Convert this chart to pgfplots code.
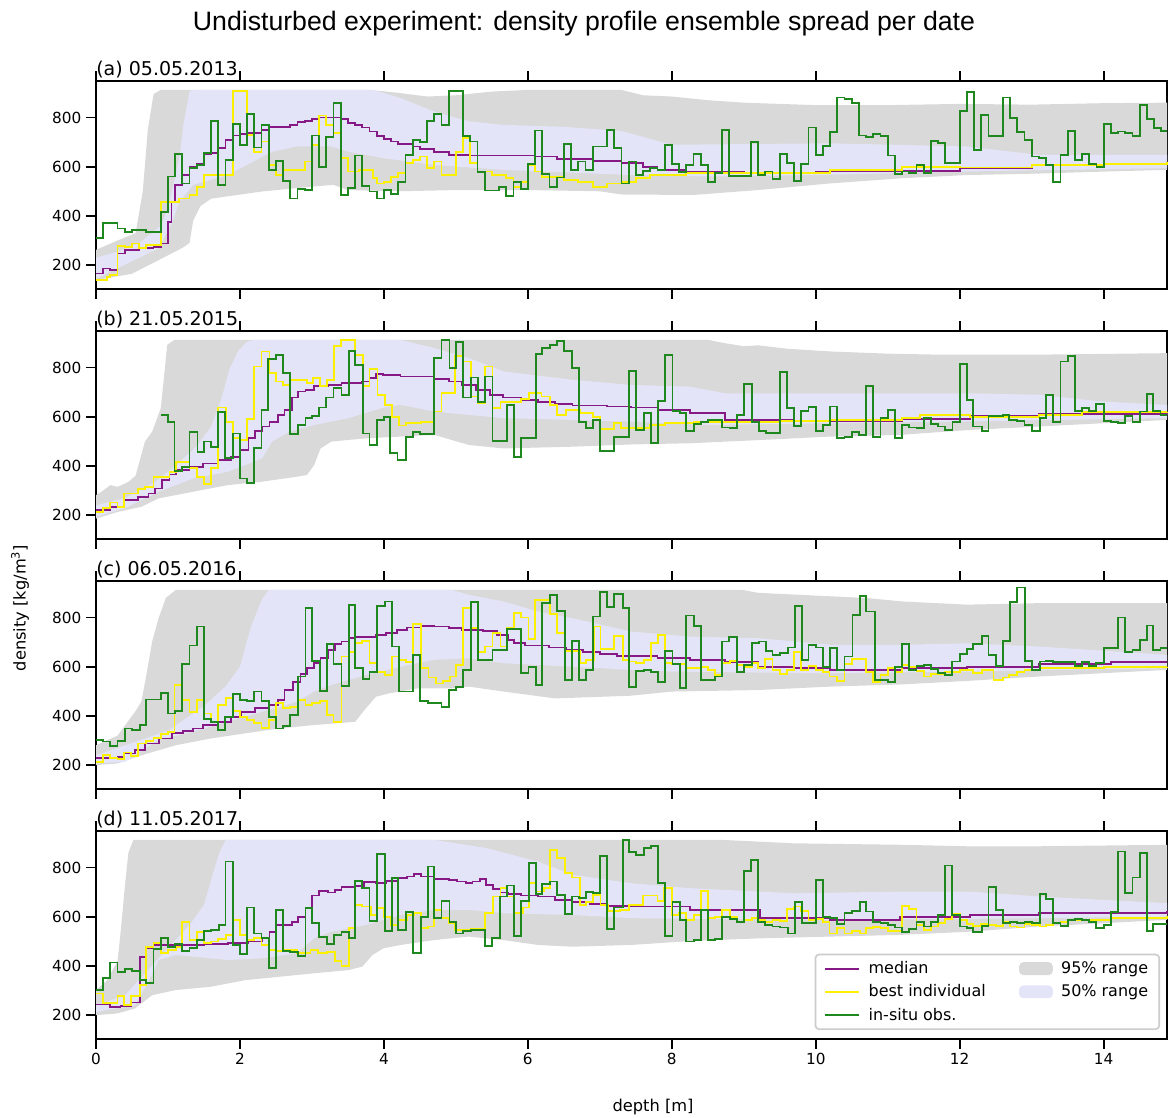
\documentclass[border=0pt]{standalone}
\usepackage{fontspec}
\setmainfont{DejaVu Sans}
\newfontfamily\titlefont{Liberation Sans}
\usepackage{pgfplots}
\pgfplotsset{compat=1.18}

\definecolor{cgray}{RGB}{217,217,217}
\definecolor{clav}{RGB}{227,228,247}
\definecolor{cmed}{RGB}{135,25,135}
\definecolor{cyel}{RGB}{250,240,0}
\definecolor{cgrn}{RGB}{30,135,30}
\definecolor{clegbox}{RGB}{204,204,204}

\tikzset{plab/.style={anchor=base west, inner xsep=0pt, yshift=4.2pt, font=\fontsize{13.7}{16}\selectfont}}
\pgfplotsset{
  panel/.style={
    width=771.12pt, height=149.76pt, scale only axis,
    xmin=0, xmax=14.88, ymin=103, ymax=948,
    xtick={0,2,...,14}, ytick={200,400,600,800},
    tick align=outside, major tick length=7pt,
    tick style={line width=1.3pt, black},
    axis line style={line width=1.6pt},
    every tick label/.append style={font=\fontsize{11}{13}\selectfont},
    /pgf/number format/assume math mode=true,
    clip=false,
  },
  medl/.style={cmed, line width=1.3pt, const plot, forget plot},
  yell/.style={cyel, line width=1.3pt, const plot, forget plot},
  grnl/.style={cgrn, line width=1.3pt, const plot, forget plot},
  band95/.style={fill=cgray, draw=none, forget plot},
  band50/.style={fill=clav, draw=none, forget plot},
}

\begin{document}
\begin{tikzpicture}
\useasboundingbox (0,0) rectangle (840.96pt,-804.24pt);

\node[anchor=base, font=\titlefont\fontsize{19.2}{23}\selectfont] at (420.5pt,-22.3pt) {Undisturbed experiment: density profile ensemble spread per date};
\node[rotate=90, anchor=center, font=\fontsize{11.7}{14}\selectfont] at (14.4pt,-437.8pt) {density [kg/m\textsuperscript{3}]};
\node[anchor=base, font=\fontsize{11.7}{14}\selectfont] at (470.2pt,-800.5pt) {depth [m]};

% ---------------- (a) ----------------
\begin{axis}[panel, at={(69.12pt,-58.32pt)}, anchor=north west, xticklabels={}]
\addplot[band95] coordinates {(0,262)(0.3,300)(0.55,330)(0.65,500)(0.72,750)(0.8,895)(0.9,912)(3.8,912)(4.2,900)(4.6,885)(5.0,890)(5.5,905)(6.0,912)(7.3,912)(7.6,890)(8.0,885)(8.5,870)(9.0,860)(10.0,850)(11.0,850)(12.0,855)(13.0,852)(14.0,858)(14.88,860)
 (14.88,587)(14.0,580)(13.1,572)(12.1,566)(11.2,553)(10.2,532)(9.2,505)(8.3,485)(7.3,487)(7.0,500)(6.0,505)(5.0,505)(4.2,500)(3.5,505)(3.3,526)(3.0,519)(2.3,499)(1.6,470)(1.45,440)(1.35,380)(1.3,290)(1.2,270)(0.9,225)(0.5,165)(0,139)};
\addplot[band50] coordinates {(0,230)(0.3,255)(0.6,290)(0.9,360)(1.0,430)(1.1,560)(1.16,640)(1.22,780)(1.3,906)(1.35,912)(3.85,912)(4.23,879)(4.7,824)(5.18,784)(5.66,770)(6.5,762)(7.3,745)(7.8,705)(8.0,689)(10.2,695)(12.1,682)(13.1,648)(14.88,648)
 (14.88,594)(12.0,580)(10.0,566)(8.5,560)(7.43,566)(5.66,587)(4.7,607)(4.0,634)(3.5,661)(3.27,682)(2.79,682)(2.45,661)(1.83,566)(1.35,526)(1.16,458)(1.06,376)(0.87,268)(0,145)};
\addplot[medl] coordinates {(0,166)(0.1,186)(0.2,180)(0.3,247)(0.4,262)(0.6,268)(0.8,275)(0.9,288)(1.0,376)(1.05,458)(1.1,526)(1.2,566)(1.3,600)(1.4,610)(1.5,650)(1.6,655)(1.7,675)(1.8,709)(1.9,727)(2.0,733)(2.1,737)(2.3,750)(2.4,760)(2.7,770)(2.8,781)(2.9,787)(3.0,795)(3.1,800)(3.4,795)(3.5,777)(3.6,770)(3.7,759)(3.8,743)(3.9,723)(4.0,713)(4.1,702)(4.2,692)(4.4,682)(4.5,672)(4.7,659)(4.9,648)(5.2,645)(6.1,641)(6.4,631)(6.9,623)(7.3,614)(7.6,600)(7.8,585)(8.2,578)(9.0,573)(10.0,580)(11.0,584)(12.0,596)(13.0,605)(14.0,612)(14.88,618)};
\addplot[yell] coordinates {(0,139)(0.15,153)(0.2,159)(0.3,277)(0.4,274)(0.5,288)(0.6,268)(0.7,281)(0.9,458)(1.05,458)(1.15,471)(1.3,485)(1.4,519)(1.5,566)(1.9,906)(2.1,729)(2.2,661)(2.3,702)(2.4,607)(2.5,566)(2.6,587)(2.9,621)(3.0,689)(3.1,808)(3.2,770)(3.3,736)(3.4,634)(3.5,580)(3.65,587)(3.85,553)(3.9,532)(4.0,539)(4.1,559)(4.2,573)(4.3,614)(4.4,628)(4.5,641)(4.6,594)(4.7,621)(4.8,566)(5.0,661)(5.1,716)(5.2,614)(5.3,580)(5.5,566)(5.7,553)(5.8,519)(5.9,539)(6.0,607)(6.1,580)(6.2,559)(6.5,546)(6.7,539)(6.9,519)(7.1,532)(7.3,539)(7.5,553)(7.7,566)(8.2,573)(9.0,575)(10.2,587)(11.2,600)(12.0,597)(13.0,607)(14.0,612)(14.88,618)};
\addplot[grnl] coordinates {(0,311)(0.1,370)(0.3,349)(0.4,336)(0.5,342)(0.7,336)(0.9,417)(1.0,560)(1.1,652)(1.2,532)(1.3,596)(1.4,607)(1.5,655)(1.6,786)(1.7,526)(1.8,628)(1.9,773)(2.0,689)(2.1,814)(2.2,678)(2.3,770)(2.4,587)(2.5,623)(2.6,542)(2.7,471)(2.8,509)(2.9,505)(3.0,727)(3.1,600)(3.2,719)(3.3,858)(3.4,485)(3.5,512)(3.6,645)(3.7,523)(3.8,499)(3.9,471)(4.0,505)(4.1,488)(4.2,539)(4.3,648)(4.4,709)(4.5,700)(4.6,784)(4.7,814)(4.8,770)(4.9,906)(5.1,723)(5.2,702)(5.3,577)(5.4,503)(5.6,519)(5.7,482)(5.8,537)(5.9,509)(6.0,610)(6.1,747)(6.2,569)(6.3,519)(6.4,556)(6.5,691)(6.6,587)(6.7,621)(6.8,587)(6.9,682)(7.1,750)(7.2,675)(7.3,532)(7.4,621)(7.5,566)(7.6,583)(7.7,594)(7.8,587)(7.9,689)(8.0,610)(8.1,577)(8.2,607)(8.3,652)(8.4,607)(8.5,539)(8.6,573)(8.7,750)(8.8,562)(9.1,700)(9.2,566)(9.3,580)(9.4,550)(9.5,652)(9.6,614)(9.7,543)(9.8,610)(9.9,759)(10.0,648)(10.1,685)(10.2,740)(10.3,881)(10.4,876)(10.5,858)(10.6,727)(10.7,720)(10.8,732)(10.9,725)(11.0,645)(11.1,570)(11.2,580)(11.3,573)(11.4,607)(11.5,573)(11.6,705)(11.7,695)(11.8,614)(12.0,827)(12.1,903)(12.2,668)(12.3,811)(12.4,725)(12.6,881)(12.7,797)(12.8,740)(12.9,709)(13.0,641)(13.1,634)(13.2,607)(13.3,537)(13.4,648)(13.5,746)(13.6,628)(13.7,651)(13.8,610)(13.9,600)(14.0,773)(14.1,736)(14.2,743)(14.3,736)(14.4,725)(14.5,849)(14.6,793)(14.7,757)(14.8,746)(14.88,746)};
\node[plab] at (rel axis cs:0,1) {(a) 05.05.2013};
\end{axis}

% ---------------- (b) ----------------
\begin{axis}[panel, at={(69.12pt,-238.32pt)}, anchor=north west, xticklabels={}]
\addplot[band95] coordinates {(0,281)(0.1,300)(0.2,322)(0.3,315)(0.45,335)(0.55,360)(0.68,499)(0.78,539)(0.9,634)(0.99,892)(1.09,912)(8.5,912)(8.75,898)(9.0,886)(9.2,890)(9.6,876)(10.2,865)(11.0,856)(11.7,852)(13.1,852)(14.0,855)(14.88,858)
 (14.88,587)(13.1,560)(12.14,546)(11.17,526)(10.19,519)(9.22,505)(8.25,492)(7.43,487)(6.62,478)(5.66,471)(5.18,485)(4.7,526)(4.23,519)(3.75,512)(3.27,499)(3.12,471)(3.03,403)(2.93,363)(2.79,356)(2.31,336)(1.83,322)(1.35,295)(0.87,268)(0.63,234)(0.3,213)(0,186)};
\addplot[band50] coordinates {(0,240)(0.4,270)(0.8,330)(1.1,400)(1.4,480)(1.6,560)(1.75,680)(1.85,790)(1.97,865)(2.1,905)(2.2,912)(4.23,912)(4.7,879)(5.18,838)(5.66,784)(6.62,750)(7.43,729)(8.25,722)(8.74,695)(10.2,695)(12.1,695)(13.1,689)(14.0,661)(14.88,648)
 (14.88,594)(12.0,580)(10.2,573)(8.5,566)(7.43,580)(6.62,587)(5.66,594)(5.18,607)(4.7,621)(4.23,648)(3.99,637)(3.51,594)(3.03,566)(2.69,539)(2.45,499)(2.31,431)(2.07,403)(1.83,376)(1.35,349)(0.87,295)(0.39,227)(0,193)};
\addplot[medl] coordinates {(0,220)(0.2,234)(0.39,261)(0.58,274)(0.73,288)(0.82,308)(0.92,342)(1.02,365)(1.11,383)(1.3,397)(1.49,410)(1.69,424)(1.88,437)(2.0,465)(2.12,512)(2.21,542)(2.31,560)(2.41,580)(2.53,607)(2.62,628)(2.72,678)(2.81,702)(2.91,708)(3.03,723)(3.22,729)(3.41,736)(3.7,743)(3.8,757)(3.89,773)(3.99,770)(4.23,763)(4.7,754)(4.9,743)(5.09,729)(5.28,709)(5.47,689)(5.66,678)(5.9,668)(6.14,659)(6.38,651)(6.62,645)(7.1,641)(7.43,637)(7.8,628)(8.25,614)(8.74,587)(9.7,584)(11.2,592)(12.14,604)(13.1,610)(14.88,618)};
\addplot[yell] coordinates {(0,213)(0.1,230)(0.2,251)(0.3,234)(0.39,288)(0.58,306)(0.68,315)(0.8,356)(1.02,376)(1.11,417)(1.3,393)(1.4,356)(1.5,325)(1.6,390)(1.7,637)(1.81,577)(1.9,512)(2.0,505)(2.1,591)(2.2,804)(2.3,865)(2.41,777)(2.5,743)(2.6,729)(2.69,750)(2.93,736)(3.02,757)(3.11,723)(3.21,750)(3.31,886)(3.4,913)(3.6,849)(3.71,723)(3.8,793)(3.91,689)(4.01,648)(4.11,600)(4.21,564)(4.31,573)(4.51,580)(4.7,621)(4.8,695)(4.99,845)(5.1,824)(5.21,682)(5.31,655)(5.41,804)(5.51,634)(5.62,661)(5.9,672)(6.02,695)(6.19,682)(6.31,648)(6.41,607)(6.53,628)(6.72,614)(6.91,600)(7.0,550)(7.2,573)(7.29,553)(7.5,553)(7.7,566)(7.9,573)(8.3,580)(9.5,582)(10.2,587)(11.2,596)(11.45,607)(12.0,607)(12.14,600)(13.1,607)(13.7,618)(14.88,621)};
\addplot[grnl] coordinates {(0.9,607)(1.0,577)(1.09,379)(1.2,397)(1.3,539)(1.41,455)(1.5,499)(1.6,478)(1.7,618)(1.79,431)(1.9,532)(2.0,349)(2.1,329)(2.2,474)(2.3,628)(2.39,835)(2.5,852)(2.6,777)(2.7,528)(2.81,566)(2.91,594)(3.0,604)(3.1,637)(3.2,678)(3.3,716)(3.41,689)(3.51,868)(3.6,811)(3.71,532)(3.8,485)(3.9,587)(4.0,600)(4.09,451)(4.19,424)(4.31,519)(4.4,539)(4.5,528)(4.7,838)(4.8,913)(4.91,797)(5.0,902)(5.1,678)(5.21,759)(5.31,661)(5.41,763)(5.51,501)(5.71,648)(5.81,437)(5.9,512)(6.0,515)(6.11,854)(6.2,879)(6.31,890)(6.41,906)(6.5,868)(6.61,797)(6.71,577)(6.81,553)(6.91,587)(7.0,460)(7.2,519)(7.4,784)(7.5,546)(7.61,614)(7.71,492)(7.81,664)(7.9,852)(8.01,623)(8.11,614)(8.2,542)(8.31,570)(8.41,577)(8.5,587)(8.7,556)(8.81,553)(8.91,607)(9.0,732)(9.11,580)(9.21,542)(9.31,535)(9.5,780)(9.6,634)(9.7,562)(9.8,623)(9.9,640)(10.0,542)(10.1,566)(10.2,641)(10.3,515)(10.4,519)(10.5,539)(10.6,525)(10.7,725)(10.8,519)(10.9,596)(11.0,628)(11.1,512)(11.2,566)(11.3,556)(11.4,553)(11.5,594)(11.6,569)(11.7,560)(11.8,546)(11.9,580)(12.0,814)(12.1,668)(12.19,560)(12.31,542)(12.4,604)(12.6,607)(12.69,587)(12.8,583)(12.9,566)(13.0,542)(13.11,594)(13.2,689)(13.3,580)(13.4,824)(13.5,845)(13.6,623)(13.7,634)(13.8,623)(13.89,652)(14.0,583)(14.1,580)(14.2,573)(14.3,604)(14.4,577)(14.5,621)(14.6,691)(14.69,623)(14.79,607)(14.88,607)};
\node[plab] at (rel axis cs:0,1) {(b) 21.05.2015};
\end{axis}

% ---------------- (c) ----------------
\begin{axis}[panel, at={(69.12pt,-418.32pt)}, anchor=north west, xticklabels={}]
\addplot[band95] coordinates {(0,281)(0.3,320)(0.55,420)(0.63,458)(0.7,566)(0.78,702)(0.87,797)(0.97,879)(1.11,912)(8.98,912)(9.2,900)(10.2,886)(10.7,879)(11.2,865)(12.1,852)(13.1,858)(14.88,858)
 (14.88,587)(13.1,560)(12.1,542)(11.2,528)(10.2,519)(9.2,505)(8.0,499)(7.43,482)(6.38,471)(5.66,499)(5.18,519)(4.94,512)(4.47,512)(4.08,492)(3.89,478)(3.75,431)(3.6,376)(3.03,363)(2.55,349)(2.07,329)(1.59,308)(1.11,281)(0.63,240)(0.3,207)(0,200)};
\addplot[band50] coordinates {(0,240)(0.5,290)(1.0,340)(1.5,440)(1.8,520)(2.0,600)(2.15,760)(2.3,870)(2.4,912)(4.94,912)(5.18,892)(5.66,865)(6.14,824)(6.62,797)(7.43,743)(8.25,722)(9.2,716)(10.2,689)(11.2,689)(12.1,695)(13.1,682)(14.88,648)
 (14.88,594)(12.1,580)(10.2,573)(8.0,580)(7.43,587)(6.62,600)(5.66,614)(5.18,634)(4.7,628)(4.23,600)(3.75,566)(3.27,526)(3.03,499)(2.79,458)(2.55,437)(2.31,417)(1.83,376)(1.35,336)(0.87,302)(0.4,213)(0,207)};
\addplot[medl] coordinates {(0,230)(0.3,234)(0.39,247)(0.54,261)(0.68,288)(0.87,308)(1.06,329)(1.21,338)(1.35,349)(1.49,363)(1.69,376)(1.88,397)(2.02,417)(2.21,431)(2.41,444)(2.53,465)(2.62,505)(2.74,539)(2.84,569)(2.93,594)(3.03,614)(3.12,634)(3.22,668)(3.32,691)(3.41,702)(3.51,716)(3.6,721)(3.89,729)(4.03,736)(4.18,750)(4.32,759)(4.51,766)(4.7,763)(4.9,757)(5.09,750)(5.38,745)(5.57,729)(5.72,709)(5.81,695)(5.96,686)(6.29,678)(6.53,668)(6.77,661)(7.0,651)(7.24,645)(7.8,636)(8.25,628)(8.74,618)(9.2,600)(9.7,594)(10.2,587)(11.2,594)(12.1,600)(13.1,610)(14.1,618)(14.88,618)};
\addplot[yell] coordinates {(0,213)(0.1,240)(0.2,230)(0.3,224)(0.39,251)(0.49,238)(0.58,288)(0.7,298)(0.8,311)(0.9,325)(1.0,336)(1.09,526)(1.2,465)(1.3,417)(1.4,465)(1.5,410)(1.6,376)(1.7,444)(1.81,474)(1.9,420)(2.0,397)(2.1,383)(2.2,370)(2.3,352)(2.4,383)(2.5,451)(2.6,431)(2.7,437)(2.81,465)(2.91,444)(3.0,451)(3.11,460)(3.21,403)(3.3,376)(3.41,641)(3.51,661)(3.6,695)(3.7,705)(3.8,614)(3.9,580)(4.01,566)(4.11,641)(4.21,628)(4.31,618)(4.4,773)(4.51,594)(4.62,556)(4.72,532)(4.82,542)(4.92,560)(5.0,607)(5.1,838)(5.21,757)(5.31,661)(5.41,682)(5.51,736)(5.62,682)(5.71,757)(5.81,818)(5.9,800)(6.01,713)(6.1,872)(6.31,814)(6.41,736)(6.52,664)(6.72,614)(6.81,628)(6.92,763)(7.01,672)(7.2,723)(7.32,628)(7.4,621)(7.5,614)(7.61,628)(7.71,695)(7.81,729)(7.9,614)(8.0,610)(8.2,594)(8.41,600)(8.5,587)(8.6,566)(8.7,614)(8.81,623)(8.91,607)(9.0,600)(9.11,614)(9.2,596)(9.3,632)(9.4,587)(9.5,569)(9.6,587)(9.7,661)(9.8,587)(9.9,604)(10.0,587)(10.1,580)(10.19,560)(10.3,542)(10.4,610)(10.5,632)(10.7,580)(10.8,539)(10.9,566)(11.0,594)(11.1,580)(11.2,607)(11.3,600)(11.4,583)(11.5,560)(11.6,569)(11.8,577)(11.9,580)(12.0,587)(12.19,573)(12.31,587)(12.47,546)(12.6,556)(12.69,566)(12.8,580)(12.9,587)(13.11,594)(14.0,598)(14.88,600)};
\addplot[grnl] coordinates {(0,302)(0.1,296)(0.2,279)(0.3,299)(0.4,349)(0.5,342)(0.61,363)(0.7,467)(0.9,492)(1.0,410)(1.1,420)(1.2,610)(1.3,686)(1.4,763)(1.5,387)(1.6,376)(1.7,342)(1.79,397)(1.9,488)(2.0,465)(2.1,460)(2.2,499)(2.3,460)(2.4,397)(2.5,349)(2.6,360)(2.7,403)(2.81,560)(2.91,838)(3.0,623)(3.11,501)(3.21,691)(3.3,610)(3.41,523)(3.51,849)(3.6,594)(3.71,550)(3.8,580)(3.9,845)(4.01,865)(4.11,682)(4.21,499)(4.4,648)(4.5,460)(4.61,451)(4.8,437)(4.9,505)(5.0,519)(5.1,587)(5.21,862)(5.31,628)(5.51,668)(5.71,754)(5.9,573)(6.01,600)(6.11,526)(6.2,858)(6.31,892)(6.41,827)(6.52,546)(6.61,705)(6.71,546)(6.81,587)(6.91,804)(7.0,903)(7.1,842)(7.2,895)(7.32,838)(7.4,519)(7.5,583)(7.61,587)(7.71,580)(7.81,539)(7.9,664)(8.01,610)(8.11,512)(8.2,808)(8.31,766)(8.41,546)(8.6,560)(8.7,702)(8.8,719)(8.91,580)(9.0,607)(9.11,695)(9.21,702)(9.31,664)(9.4,648)(9.5,655)(9.61,678)(9.71,845)(9.81,628)(9.9,689)(10.0,678)(10.1,600)(10.2,675)(10.3,587)(10.4,641)(10.51,811)(10.61,886)(10.7,824)(10.82,546)(11.0,539)(11.1,600)(11.2,691)(11.3,587)(11.4,604)(11.5,607)(11.6,591)(11.7,573)(11.8,566)(11.89,621)(12.0,651)(12.1,672)(12.19,691)(12.31,723)(12.4,648)(12.5,604)(12.6,705)(12.7,862)(12.8,922)(12.91,623)(13.0,587)(13.11,621)(13.2,623)(13.3,618)(13.6,604)(13.7,618)(13.8,604)(13.89,614)(14.0,675)(14.2,800)(14.3,661)(14.4,668)(14.5,709)(14.6,767)(14.69,668)(14.79,675)(14.88,675)};
\node[plab] at (rel axis cs:0,1) {(c) 06.05.2016};
\end{axis}

% ---------------- (d) ----------------
\begin{axis}[panel, at={(69.12pt,-598.32pt)}, anchor=north west,
  legend columns=2,
  legend cell align=left,
  legend style={at={(1,0)}, anchor=south east, xshift=-5pt, yshift=6.5pt,
    draw=clegbox, line width=1.2pt, rounded corners=2.5pt, fill=white,
    font=\fontsize{11.5}{13.5}\selectfont, row sep=2.5pt, inner xsep=6pt, inner ysep=3pt,
    /tikz/every even column/.append style={column sep=22pt},
    /tikz/every odd column/.append style={column sep=4pt}},
]
\addlegendimage{legend image code/.code={\draw[cmed, line width=1.3pt] (0pt,0pt) -- (25pt,0pt);}}
\addlegendentry{median}
\addlegendimage{legend image code/.code={\fill[cgray] (0pt,-4pt) rectangle (23pt,4pt);}}
\addlegendentry{95\% range}
\addlegendimage{legend image code/.code={\draw[cyel, line width=1.3pt] (0pt,0pt) -- (25pt,0pt);}}
\addlegendentry{best individual}
\addlegendimage{legend image code/.code={\fill[clav] (0pt,-4pt) rectangle (23pt,4pt);}}
\addlegendentry{50\% range}
\addlegendimage{legend image code/.code={\draw[cgrn, line width=1.3pt] (0pt,0pt) -- (25pt,0pt);}}
\addlegendentry{in-situ obs.}
\addplot[band95] coordinates {(0,302)(0.15,340)(0.3,420)(0.35,560)(0.4,720)(0.45,860)(0.52,912)(8.7,912)(9.7,898)(11.2,892)(12.1,886)(13.1,886)(14.88,892)
 (14.88,587)(13.1,560)(12.14,539)(11.17,526)(10.19,519)(9.22,512)(8.25,501)(7.43,485)(6.62,478)(6.14,485)(5.66,505)(5.18,519)(4.7,505)(4.23,485)(3.99,471)(3.84,444)(3.7,397)(3.51,383)(3.03,370)(2.55,356)(2.07,342)(1.59,315)(1.11,302)(0.78,281)(0.54,227)(0.3,207)(0,200)};
\addplot[band50] coordinates {(0,240)(0.4,280)(0.87,431)(1.3,566)(1.5,648)(1.62,770)(1.72,865)(1.8,912)(4.7,912)(5.42,879)(6.14,824)(6.62,770)(7.43,736)(8.25,716)(9.7,695)(11.2,702)(12.14,702)(13.1,682)(14.88,655)
 (14.88,600)(12.1,591)(10.2,587)(8.5,591)(7.43,594)(6.62,607)(5.66,614)(5.18,628)(4.7,628)(4.23,607)(3.75,566)(3.27,539)(3.03,512)(2.79,451)(2.31,431)(1.83,424)(1.11,444)(0.87,424)(0.73,336)(0.54,240)(0,213)};
\addplot[medl] coordinates {(0,243)(0.2,234)(0.34,238)(0.49,251)(0.61,437)(0.7,471)(0.8,485)(1.5,488)(1.83,492)(2.12,499)(2.31,515)(2.41,539)(2.5,566)(2.72,580)(2.81,600)(2.91,634)(3.0,686)(3.1,705)(3.22,698)(3.32,709)(3.41,719)(3.6,723)(3.72,740)(3.89,738)(4.03,746)(4.2,757)(4.32,763)(4.42,773)(4.51,763)(4.7,754)(4.9,750)(5.02,743)(5.14,736)(5.23,743)(5.33,752)(5.42,729)(5.52,713)(5.62,698)(5.72,692)(5.9,686)(6.14,682)(6.38,668)(6.62,659)(6.86,651)(7.1,644)(7.43,641)(8.25,628)(9.22,596)(10.19,587)(11.17,600)(12.14,607)(13.1,614)(14.88,623)};
\addplot[yell] coordinates {(0,288)(0.1,250)(0.3,279)(0.39,240)(0.49,279)(0.61,322)(0.7,478)(0.8,492)(0.9,451)(1.0,465)(1.11,478)(1.2,580)(1.3,505)(1.4,539)(1.5,492)(1.6,499)(1.7,509)(1.81,526)(1.9,587)(2.0,526)(2.1,505)(2.2,515)(2.3,485)(2.4,465)(2.5,460)(2.6,465)(2.79,451)(2.98,465)(3.08,451)(3.21,458)(3.32,420)(3.41,401)(3.51,553)(3.6,648)(3.7,641)(3.82,607)(3.91,634)(4.0,600)(4.1,566)(4.2,587)(4.32,607)(4.42,614)(4.51,553)(4.61,560)(4.7,628)(4.8,596)(4.9,573)(4.99,546)(5.21,550)(5.4,614)(5.52,682)(5.62,716)(5.71,682)(5.81,614)(5.93,637)(6.02,736)(6.12,702)(6.22,716)(6.31,872)(6.41,838)(6.52,777)(6.61,759)(6.72,648)(6.81,661)(6.91,689)(7.01,648)(7.11,623)(7.28,628)(7.4,648)(7.6,686)(7.8,664)(7.89,716)(8.0,607)(8.1,614)(8.2,587)(8.31,607)(8.41,705)(8.5,594)(8.6,600)(8.7,628)(8.81,600)(8.91,580)(9.0,587)(9.11,594)(9.2,587)(9.3,580)(9.4,587)(9.5,583)(9.6,632)(9.7,641)(9.8,623)(9.9,587)(10.0,591)(10.1,580)(10.19,532)(10.3,553)(10.4,532)(10.5,542)(10.61,532)(10.7,553)(10.8,557)(10.9,553)(11.0,542)(11.2,645)(11.3,632)(11.4,566)(11.5,546)(11.6,560)(11.7,573)(11.8,591)(11.89,610)(12.0,587)(12.1,569)(12.19,562)(12.3,569)(12.4,566)(12.5,562)(12.6,580)(12.7,560)(12.8,556)(12.9,569)(13.0,566)(13.11,560)(13.2,566)(13.3,573)(13.4,580)(13.5,587)(14.1,594)(14.88,604)};
\addplot[grnl] coordinates {(0,302)(0.1,352)(0.2,414)(0.3,376)(0.4,387)(0.5,379)(0.61,342)(0.7,329)(0.8,469)(0.9,515)(1.0,478)(1.1,488)(1.2,460)(1.3,474)(1.4,505)(1.5,542)(1.6,546)(1.71,566)(1.8,824)(1.9,485)(2.0,447)(2.1,637)(2.2,532)(2.3,512)(2.4,390)(2.5,628)(2.6,460)(2.7,458)(2.81,440)(2.91,634)(3.0,573)(3.1,519)(3.21,488)(3.31,526)(3.41,537)(3.51,512)(3.6,746)(3.7,716)(3.8,583)(3.9,854)(4.01,542)(4.11,757)(4.2,546)(4.31,618)(4.4,451)(4.51,600)(4.61,804)(4.7,594)(4.8,664)(4.91,580)(5.0,532)(5.1,542)(5.21,546)(5.4,482)(5.5,512)(5.61,682)(5.71,727)(5.81,523)(5.9,664)(6.02,818)(6.11,693)(6.2,732)(6.31,743)(6.41,689)(6.52,610)(6.61,682)(6.71,675)(6.81,700)(6.91,696)(7.0,845)(7.1,549)(7.2,637)(7.32,913)(7.4,862)(7.5,852)(7.61,879)(7.71,886)(7.81,736)(7.9,523)(8.01,661)(8.11,587)(8.2,499)(8.31,505)(8.41,628)(8.5,505)(8.6,509)(8.7,600)(8.81,591)(8.91,580)(9.0,784)(9.1,831)(9.2,580)(9.3,566)(9.4,560)(9.5,556)(9.61,532)(9.71,659)(9.81,573)(9.9,573)(10.0,750)(10.1,600)(10.2,596)(10.3,569)(10.4,614)(10.5,623)(10.61,661)(10.7,621)(10.8,577)(10.9,573)(11.0,566)(11.1,556)(11.2,539)(11.3,550)(11.4,577)(11.5,560)(11.6,580)(11.7,607)(11.8,808)(11.89,607)(12.0,560)(12.1,553)(12.19,539)(12.31,562)(12.4,719)(12.5,628)(12.6,573)(12.7,580)(12.8,573)(12.9,577)(13.0,573)(13.11,691)(13.2,672)(13.3,573)(13.4,562)(13.5,587)(13.6,591)(13.7,587)(13.8,580)(13.89,553)(14.0,566)(14.1,618)(14.2,865)(14.3,695)(14.4,759)(14.5,858)(14.6,542)(14.69,569)(14.79,569)(14.88,569)};
\node[plab] at (rel axis cs:0,1) {(d) 11.05.2017};
\end{axis}
\end{tikzpicture}
\end{document}
